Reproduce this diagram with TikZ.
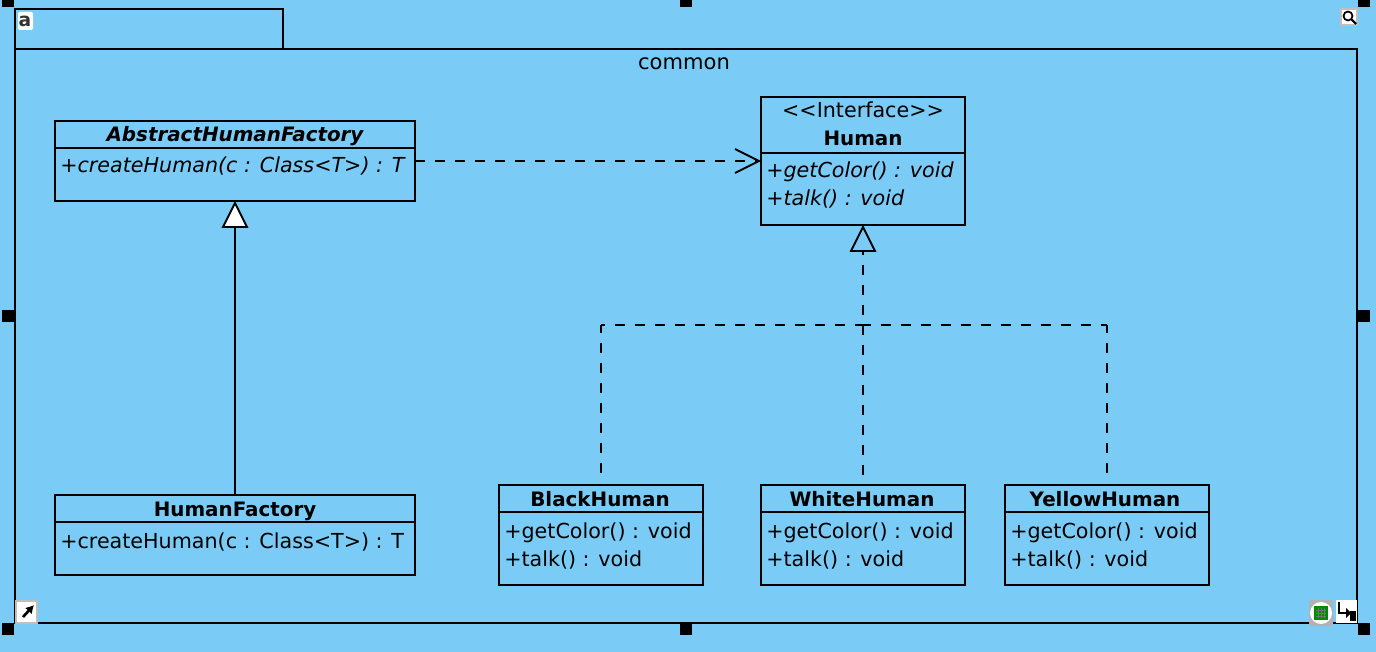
\documentclass[tikz,border=0pt]{standalone}
\usepackage{fontspec}
\setmainfont{DejaVu Sans}
\usetikzlibrary{calc,arrows.meta}
\definecolor{pkgblue}{RGB}{122,204,247}
\tikzset{
  x=0.75pt,y=-0.75pt,
  outline/.style={draw=black,line width=1.5pt},
  umlbox/.style={outline,rectangle,inner sep=0pt,outer sep=0pt,anchor=north west},
  divider/.style={draw=black,line width=1.5pt},
  txt/.style={inner sep=0pt,font=\fontsize{15.5pt}{18pt}\selectfont,text=black,anchor=base},
  txtl/.style={txt,anchor=base west},
  bold/.style={txt,font=\fontsize{14.9pt}{18pt}\selectfont\bfseries},
  boldi/.style={txt,font=\fontsize{14.9pt}{18pt}\selectfont\bfseries\itshape},
  ital/.style={txtl,font=\fontsize{15.5pt}{18pt}\selectfont\itshape},
  conn/.style={draw=black,line width=1.4pt},
  dashconn/.style={conn,dash pattern=on 7.5pt off 7.5pt},
  handle/.style={fill=black,draw=none,rectangle,inner sep=0pt,minimum size=9pt},
  iconbg/.style={fill=white,draw=black!25,line width=1pt},
}
\newcommand{\umlclass}[5]{% name, x, y, w, h
  \node[umlbox,minimum width=#4*0.75pt,minimum height=#5*0.75pt] (#1) at (#2,#3) {};
}
\begin{document}
\begin{tikzpicture}
\useasboundingbox (0,0) rectangle (1376,652);
\fill[pkgblue] (0,0) rectangle (1376,652);
% package
\node[umlbox,minimum width=1342*0.75pt,minimum height=574*0.75pt] (pkg) at (15,49) {};
\node[umlbox,minimum width=268*0.75pt,minimum height=40*0.75pt] (tab) at (15,9) {};
\node[txt,font=\fontsize{15.8pt}{18pt}\selectfont] (pkgname) at (684,70) {common};
% classes
\umlclass{afact}{55}{121}{360}{80}
\umlclass{hfact}{55}{495}{360}{80}
\umlclass{human}{761}{97}{204}{128}
\umlclass{black}{499}{485}{204}{100}
\umlclass{white}{761}{485}{204}{100}
\umlclass{yellow}{1005}{485}{204}{100}
\draw[divider] ($(afact.north west)+(0,27)$) -- ($(afact.north east)+(0,27)$);
\draw[divider] ($(hfact.north west)+(0,27)$) -- ($(hfact.north east)+(0,27)$);
\draw[divider] ($(human.north west)+(0,56)$) -- ($(human.north east)+(0,56)$);
\draw[divider] ($(black.north west)+(0,27)$) -- ($(black.north east)+(0,27)$);
\draw[divider] ($(white.north west)+(0,27)$) -- ($(white.north east)+(0,27)$);
\draw[divider] ($(yellow.north west)+(0,27)$) -- ($(yellow.north east)+(0,27)$);
% texts
\node[boldi] (t1) at (235,142) {AbstractHumanFactory};
\node[ital] (t2) at (60,173) {+createHuman(c : Class<T>) : T};
\node[bold] (t3) at (235,516) {HumanFactory};
\node[txtl] (t4) at (60,548) {+createHuman(c : Class<T>) : T};
\node[txt] (t5) at (863,118) {<{}<Interface>{}>};
\node[bold] (t6) at (863,146) {Human};
\node[ital] (t7) at (766,178) {+getColor() : void};
\node[ital] (t8) at (766,206) {+talk() : void};
\node[bold] (t9) at (600,506) {BlackHuman};
\node[txtl] (t10) at (504,538) {+getColor() : void};
\node[txtl] (t11) at (504,566) {+talk() : void};
\node[bold] (t12) at (862,506) {WhiteHuman};
\node[txtl] (t13) at (766,538) {+getColor() : void};
\node[txtl] (t14) at (766,566) {+talk() : void};
\node[bold] (t15) at (1105,506) {YellowHuman};
\node[txtl] (t16) at (1010,538) {+getColor() : void};
\node[txtl] (t17) at (1010,566) {+talk() : void};
% inheritance
\coordinate (tri1) at ($(afact.south)+(0,26)$);
\draw[conn] (hfact.north) -- (tri1);
\draw[conn,fill=white,line join=miter] ($(afact.south)+(0,2)$) -- ($(tri1)+(-12,0)$) -- ($(tri1)+(12,0)$) -- cycle;
% dependency
\coordinate (depend) at ($(human.west)+(-2,0)$);
\coordinate (depstart) at (afact.east |- depend);
\draw[dashconn] (depstart) -- (depend);
\draw[conn] ($(depend)+(-24,-12)$) -- (depend) -- ($(depend)+(-24,12)$);
% realization
\coordinate (tri2) at ($(human.south)+(0,26)$);
\coordinate (endb) at ($(black.north)+(0,-10)$);
\coordinate (endw) at ($(white.north)+(0,-10)$);
\coordinate (endy) at ($(yellow.north)+(0,-10)$);
\coordinate (bus) at (human.south |- 0,325);
\coordinate (busl) at (endb |- bus);
\coordinate (busr) at (endy |- bus);
\draw[dashconn,dash phase=4.5pt] (tri2) -- (endw);
\draw[dashconn,dash phase=4.5pt] (busl) -- (bus);
\draw[dashconn,dash phase=1.5pt] (bus) -- (busr);
\draw[dashconn,dash phase=1.5pt] (busl) -- (endb);
\draw[dashconn,dash phase=1.5pt] (busr) -- (endy);
\draw[conn,line join=miter] ($(human.south)+(0,2)$) -- ($(tri2)+(-12,0)$) -- ($(tri2)+(12,0)$) -- cycle;
% selection handles
\foreach \hx/\hy [count=\i] in {8/1,686/1,1364/1,8/316,1364/316,8/629,686/629,1364/629}
  \node[handle] (h\i) at (\hx,\hy) {};
% icons
\fill[white,rounded corners=1pt] (18,12) rectangle (33,30);
\node[inner sep=0pt,font=\fontsize{14pt}{14pt}\selectfont\bfseries,text=black!80] (icona) at (25,21) {a};
\draw[iconbg] (1341,9) rectangle (1357,25);
\draw[line width=1.3pt] (1348,16) circle[radius=4.5];
\draw[line width=1.6pt] (1351.5,19.5) -- (1356,24);
\draw[iconbg] (16,601) rectangle (37,623);
\draw[line width=2pt,-{Latex[length=6pt,width=7pt]}] (23,617) -- (34,605);
\fill[black!30,rounded corners=2pt] (1309,600) rectangle (1333,626);
\fill[white] (1321,613) circle[radius=11];
\fill[green!55!black] (1314,606) rectangle (1328,620);
\draw[black!55,line width=.6pt] (1316,610) -- (1326,610) (1316,613) -- (1326,613) (1316,616) -- (1326,616)
  (1318,608) -- (1318,618) (1321,608) -- (1321,618) (1324,608) -- (1324,618);
\fill[white] (1336,600) rectangle (1357,623);
\draw[line width=1.8pt] (1339,602) -- (1339,613) -- (1346,613);
\fill (1346,608) -- (1351,613) -- (1346,618) -- cycle;
\fill (1350,611) rectangle (1356,621);
\end{tikzpicture}
\end{document}
